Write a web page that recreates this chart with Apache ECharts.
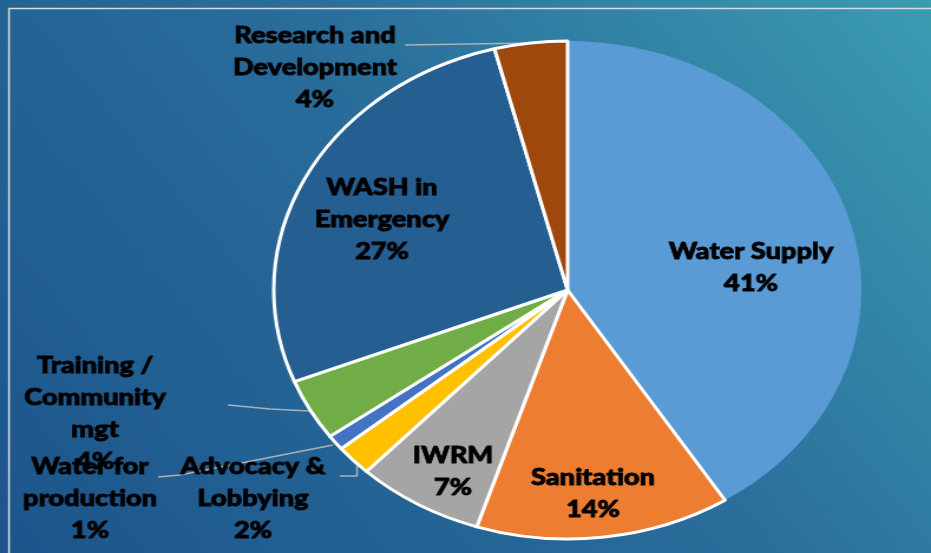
<!DOCTYPE html>
<html>
<head>
<meta charset="utf-8">
<script src="https://cdn.jsdelivr.net/npm/echarts@6/dist/echarts.min.js"></script>
<style>
  html, body { margin: 0; padding: 0; overflow: hidden; background: #24649a; }
  #wrap { width: 931px; height: 553px; overflow: hidden; }
  /* the original pie is stretched sideways, so the whole chart is scaled on x */
  #chart { width: 789px; height: 553px; transform: scaleX(1.18); transform-origin: 0 0; }
</style>
</head>
<body>
<div id="wrap"><div id="chart"></div></div>
<script>
const categories = [
  "Water Supply",
  "Sanitation",
  "IWRM",
  "Advocacy &\nLobbying",
  "Water for\nproduction",
  "Training /\nCommunity\nmgt",
  "WASH in\nEmergency",
  "Research and\nDevelopment",
];
const values = [41, 14, 7, 2, 1, 4, 27, 4];
const colors = ["#5b9bd5", "#ed7d31", "#a5a5a5", "#ffc000", "#4472c4", "#70ad47", "#255e91", "#9e480e"];
const outsideLabels = [false, false, false, true, true, true, false, true];

const SX = 1.18;
// label centres and leader lines, in picture pixels
const labelPos = [[751, 268], [593, 494], [453, 472], [253, 499], [90, 499], [95, 414], [382, 220], [315, 68]];
const leaderLines = {
  3: [[340, 476], [357, 476], [357, 463]],
  4: [[158, 477], [180, 475], [333, 445]],
  5: [[228, 405], [270, 409], [310, 411]],
  7: [[405, 45], [470, 44], [531, 43]],
};
const px = (p) => [p[0] / SX, p[1]];

const myChart = echarts.init(document.getElementById("chart"));
myChart.setOption({
  backgroundColor: new echarts.graphic.LinearGradient(1, 0, 0, 1, [
    { offset: 0, color: "#3b9cb1" },
    { offset: 0.45, color: "#2a6e9c" },
    { offset: 1, color: "#1c558b" },
  ]),
  graphic: [
    {
      type: "rect",
      shape: { x: 7.6, y: 8.5, width: 900, height: 600 },
      style: { fill: "none", stroke: "#d3dbe3", lineWidth: 1.5 },
      silent: true,
    },
  ],
  series: [
    {
      type: "pie",
      center: [481, 290],
      radius: 249,
      startAngle: 90,
      clockwise: true,
      percentPrecision: 0,
      animation: false,
      itemStyle: { borderColor: "#ffffff", borderWidth: 3 },
      label: {
        formatter: "{b}\n{d}%",
        color: "#000000",
        fontFamily: "Lato",
        fontWeight: 900,
        fontSize: 23,
        lineHeight: 32,
        align: "center",
        textBorderColor: "#000000",
        textBorderWidth: 0.8, // heavier strokes like the original
      },
      labelLine: {
        show: true,
        lineStyle: { color: "#a9b2ba", width: 1.5 },
      },
      labelLayout: (params) => {
        const i = params.dataIndex;
        const p = px(labelPos[i]);
        const out = { x: p[0], y: p[1], align: "center", verticalAlign: "middle" };
        if (leaderLines[i]) out.labelLinePoints = leaderLines[i].map(px);
        return out;
      },
      data: categories.map((name, i) => ({
        name: name,
        value: values[i],
        itemStyle: { color: colors[i], borderWidth: i === 0 ? 0 : 3 },
        label: { position: outsideLabels[i] ? "outside" : "inside" },
        labelLine: { show: outsideLabels[i] },
      })),
    },
  ],
});
</script>
</body>
</html>
